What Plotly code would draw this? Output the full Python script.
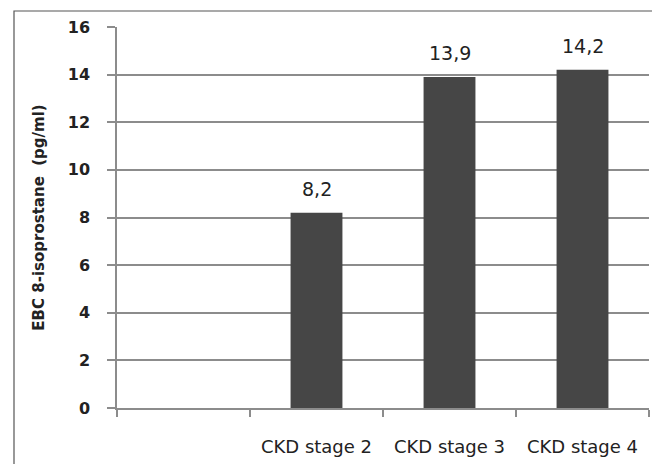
import plotly.graph_objects as go

categories = [" ", "CKD stage 2", "CKD stage 3", "CKD stage 4"]
values = [None, 8.2, 13.9, 14.2]
labels = ["", "8,2", "13,9", "14,2"]
y_ticks = [0, 2, 4, 6, 8, 10, 12, 14, 16]

OFF = 8  # page body margin offset
W, H = 660, 464
ml, mr, mt, mb = 117 - OFF, 11 + OFF, 27 - OFF, 56 + OFF
pw, ph = W - ml - mr, H - mt - mb

fig = go.Figure()
fig.add_trace(go.Bar(
    x=categories, y=values,
    marker=dict(color="#464646", line=dict(width=0)),
    width=0.39, hoverinfo="skip",
))

for c, v, t in zip(categories, values, labels):
    if v is not None:
        fig.add_annotation(x=c, y=v, text=t, showarrow=False, yanchor="bottom",
                           yshift=11, font=dict(size=19, color="#222222",
                                                family="DejaVu Sans"))

grid = "#8c8c8c"
fig.update_layout(
    width=W, height=H,
    margin=dict(l=ml, r=mr, t=mt, b=mb, autoexpand=False),
    paper_bgcolor="white", plot_bgcolor="white",
    showlegend=False,
    font=dict(family="DejaVu Sans", color="#222222"),
    shapes=[dict(type="rect", xref="paper", yref="paper",
                 x0=(14 - OFF - ml) / pw, x1=(W + 3 - ml) / pw,
                 y0=(ph + mt - (H + 6)) / ph, y1=(ph + mt - (11 - OFF)) / ph,
                 line=dict(color="#555555", width=1.2), layer="below")],
)
fig.update_xaxes(
    type="category", tickson="boundaries", ticks="outside", ticklen=7,
    tickcolor=grid, tickwidth=1.5, showgrid=False,
    showline=True, linecolor=grid, linewidth=1.5,
    tickfont=dict(size=18, color="#222222"), ticklabelstandoff=22,
    range=[-0.5, 3.5], fixedrange=True,
)
fig.update_yaxes(
    range=[0, 16], tickvals=y_ticks, ticktext=[str(v) for v in y_ticks],
    ticks="outside", ticklen=8, tickcolor=grid, tickwidth=1.5,
    showgrid=True, gridcolor=grid, gridwidth=1.8,
    showline=True, linecolor=grid, linewidth=1.5, zeroline=False,
    tickfont=dict(size=16, color="#222222", family="DejaVu Sans", weight="bold"),
    ticklabelstandoff=14,
    title=dict(text="EBC 8-isoprostane  (pg/ml)", standoff=20,
               font=dict(size=15, color="#222222", family="DejaVu Sans", weight="bold")),
    fixedrange=True,
)
fig.write_html("out.html")
